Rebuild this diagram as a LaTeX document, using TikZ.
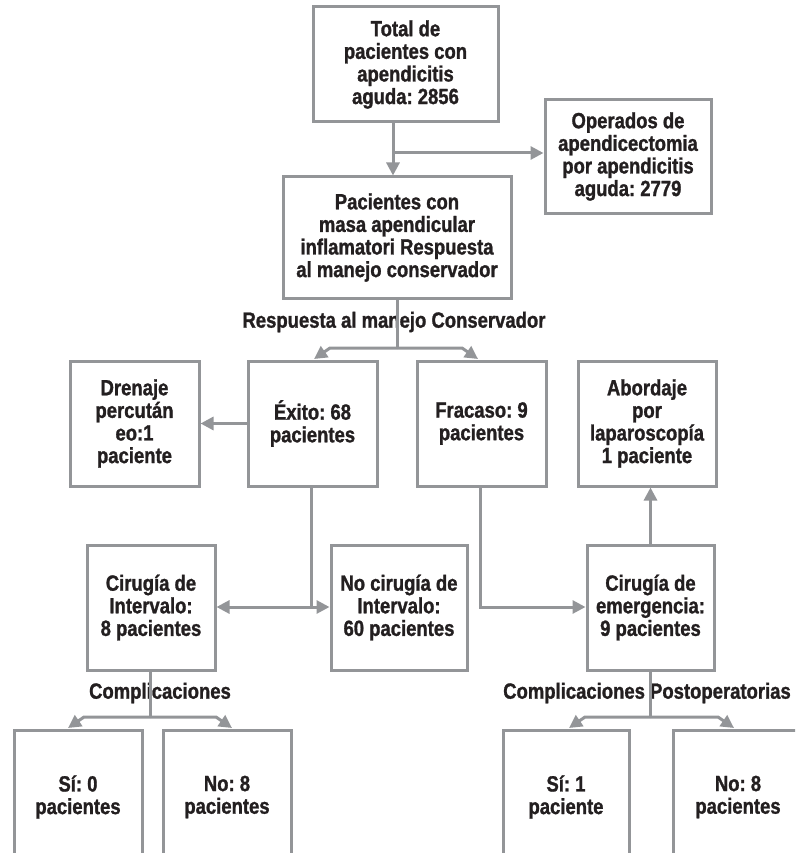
\documentclass[tikz,border=0pt]{standalone}
\usepackage{fontspec}
\setmainfont{Liberation Sans}[FakeStretch=0.84, BoldFont={Liberation Sans Bold}, BoldFeatures={FakeStretch=0.84, FakeBold=1.2}]
\usetikzlibrary{arrows.meta}
\definecolor{linegray}{HTML}{939598}
\definecolor{txt}{HTML}{231F20}
\tikzset{
  box/.style={draw=linegray, line width=3pt, inner sep=0pt, align=center,
    text=txt, font=\bfseries\fontsize{22}{22.6}\selectfont},
  lbl/.style={text=txt, inner sep=1pt, font=\bfseries\fontsize{22}{22.6}\selectfont},
  conn/.style={draw=linegray, line width=3pt},
  tip/.style={-{Triangle[length=13pt,width=13pt]}},
  arr/.style={conn, tip},
  darr/.style={conn, {Triangle[length=13pt,width=13pt]}-{Triangle[length=13pt,width=13pt]}},
}
\begin{document}
\frenchspacing
\begin{tikzpicture}[x=1pt,y=-1pt]
\useasboundingbox (0,0) rectangle (795,853);
\clip (0,0) rectangle (795,853);

% boxes
\node[box, minimum width=185pt, minimum height=115pt] (top) at (405.5,64.5)
  {Total de\\pacientes con\\apendicitis\\aguda: 2856};
\node[box, minimum width=166pt, minimum height=113pt] (oper) at (628,156.5)
  {Operados de\\apendicectomia\\por apendicitis\\aguda: 2779};
\node[box, minimum width=228pt, minimum height=121pt] (masa) at (397,237.5)
  {Pacientes con\\masa apendicular\\inflamatori Respuesta\\al manejo conservador};
\node[box, minimum width=129pt, minimum height=125pt] (drenaje) at (134.5,423.5)
  {Drenaje\\percután\\eo:1\\paciente};
\node[box, minimum width=129pt, minimum height=125pt] (exito) at (312.5,423.5)
  {Éxito: 68\\pacientes};
\node[box, minimum width=129pt, minimum height=125pt] (fracaso) at (481.5,423.5)
  {Fracaso: 9\\pacientes};
\node[box, minimum width=138pt, minimum height=125pt] (abord) at (647,423.5)
  {Abordaje\\por\\laparoscopía\\1 paciente};
\node[box, minimum width=128pt, minimum height=125pt] (cint) at (151,607.5)
  {Cirugía de\\Intervalo:\\8 pacientes};
\node[box, minimum width=136pt, minimum height=125pt] (nocir) at (399,607.5)
  {No cirugía de\\Intervalo:\\60 pacientes};
\node[box, minimum width=127pt, minimum height=125pt] (cemer) at (650.5,607.5)
  {Cirugía de\\emergencia:\\9 pacientes};
\node[box, minimum width=128pt, minimum height=134pt] (si0) at (78,797)
  {Sí: 0\\pacientes};
\node[box, minimum width=128pt, minimum height=134pt] (no8a) at (227,797)
  {No: 8\\pacientes};
\node[box, minimum width=126pt, minimum height=134pt] (si1) at (566,797)
  {Sí: 1\\paciente};
\node[box, minimum width=130pt, minimum height=134pt] (no8b) at (738,797)
  {No: 8\\pacientes};

% labels
\node[lbl] (lresp) at (394,322) {Respuesta al manejo Conservador};
\node[lbl] (lcomp1) at (160,693) {Complicaciones};
\node[lbl] (lcomp2) at (647,693) {Complicaciones Postoperatorias};

% junction coordinates
\coordinate (j1) at (393,153);
\coordinate (j2) at (397,348);
\coordinate (j2l) at (330,348);
\coordinate (t2l) at (314,359);
\coordinate (j2r) at (462,348);
\coordinate (t2r) at (478,359);
\coordinate (j3) at (311,607);
\coordinate (j4) at (480,607);
\coordinate (j5) at (150,717);
\coordinate (j5l) at (84,717);
\coordinate (t5l) at (68,728);
\coordinate (j5r) at (216,717);
\coordinate (t5r) at (232,728);
\coordinate (j6) at (650,717);
\coordinate (j6l) at (585,717);
\coordinate (t6l) at (569,728);
\coordinate (j6r) at (718,717);
\coordinate (t6r) at (734,728);

% connectors
\draw[conn] (top.south -| j1) -- (j1);
\draw[arr] (j1) -- (masa.north -| j1);
\draw[arr] (j1) -- (oper.west |- j1);

\draw[conn] (masa.south -| j2) -- (j2);
\draw[arr] (j2) -- (j2l) -- (t2l);
\draw[arr] (j2) -- (j2r) -- (t2r);

\draw[arr] (exito.west |- drenaje.east) -- (drenaje.east);

\draw[conn] (exito.south -| j3) -- (j3);
\draw[darr] (cint.east |- j3) -- (nocir.west |- j3);

\draw[arr] (fracaso.south -| j4) -- (j4) -- (cemer.west |- j4);

\draw[arr] (cemer.north) -- (abord.south -| cemer.north);

\draw[conn] (cint.south -| j5) -- (j5);
\draw[arr] (j5) -- (j5l) -- (t5l);
\draw[arr] (j5) -- (j5r) -- (t5r);

\draw[conn] (cemer.south -| j6) -- (j6);
\draw[arr] (j6) -- (j6l) -- (t6l);
\draw[arr] (j6) -- (j6r) -- (t6r);
\end{tikzpicture}
\end{document}
